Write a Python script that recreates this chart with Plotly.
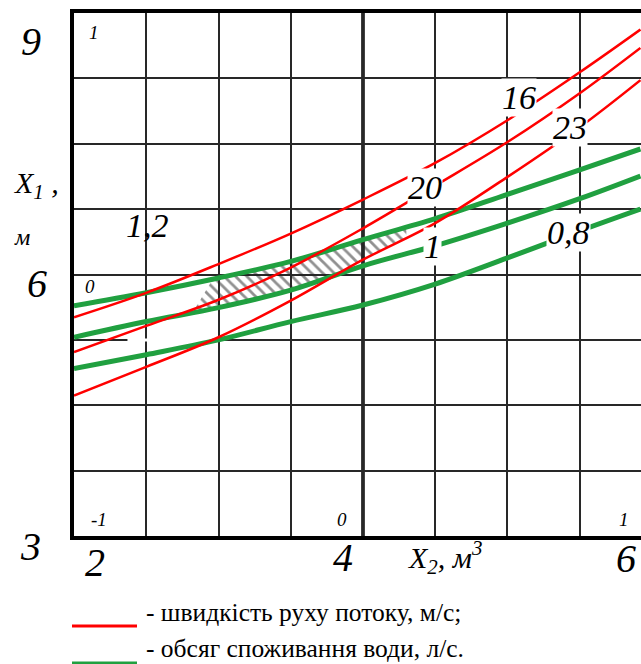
import numpy as np
import plotly.graph_objects as go

# ---------------- data ----------------
x2_points = [2.0, 2.5, 3.0, 3.5, 4.0, 4.5, 5.0, 5.5, 5.92]

# flow velocity isolines (m/s)
vel_16 = [5.51, 5.79, 6.12, 6.47, 6.86, 7.28, 7.77, 8.32, 8.81]
vel_20 = [5.11, 5.41, 5.71, 6.08, 6.53, 7.02, 7.52, 8.08, 8.60]
vel_23 = [4.61, 4.94, 5.28, 5.70, 6.17, 6.59, 7.12, 7.69, 8.23]

# water consumption isolines (l/s)
flow_12 = [5.64, 5.79, 5.96, 6.15, 6.40, 6.64, 6.92, 7.20, 7.44]
flow_10 = [5.28, 5.46, 5.62, 5.82, 6.10, 6.33, 6.59, 6.87, 7.13]
flow_08 = [4.92, 5.08, 5.25, 5.46, 5.65, 5.89, 6.19, 6.50, 6.75]

vel_labels = ["16", "20", "23"]
vel_label_x = [5.08, 4.43, 5.43]
vel_label_y = [8.03, 7.00, 7.69]

flow_labels = ["1,2", "1", "0,8"]
flow_label_x = [2.51, 4.48, 5.42]
flow_label_y = [6.56, 6.32, 6.48]

x_tick_vals = [2, 4, 6]
x_tick_text = ["2", "4", "6"]
y_tick_vals = [3, 6, 9]
y_tick_text = ["3", "6", "9"]

coded_x_vals = [2, 4, 6]
coded_x_text = ["-1", "0", "1"]
coded_y_vals = [9, 6]
coded_y_text = ["1", "0"]

# hatched compromise zone limits (X2)
hatch_x_start = 2.82
hatch_x_top_start = 2.96
hatch_x_end = 4.30

legend_texts = ["- швидкість руху потоку, м/с;", "- обсяг споживання води, л/с."]

# ---------------- styling ----------------
X_RANGE = [2.0, 5.924]
Y_RANGE = [3.0, 9.0]
RED = "#ff0000"
GREEN = "#20a040"
SERIF = "Liberation Serif"


def fx(v):
    return (v - X_RANGE[0]) / (X_RANGE[1] - X_RANGE[0])


def fy(v):
    return (v - Y_RANGE[0]) / (Y_RANGE[1] - Y_RANGE[0])


def ifont(size):
    return dict(family=SERIF, size=size, color="black", style="italic")


fig = go.Figure()

# hatched region
xp = np.array(x2_points)
xt = np.linspace(hatch_x_top_start, hatch_x_end, 30)
yt = np.interp(xt, xp, flow_12)
xb = np.linspace(hatch_x_end, hatch_x_start, 30)
yb = np.maximum(np.interp(xb, xp, flow_10), np.interp(xb, xp, vel_23))
hx = np.concatenate([xt, xb, xt[:1]])
hy = np.concatenate([yt, yb, yt[:1]])
fig.add_trace(go.Scatter(
    x=hx, y=hy, mode="lines", line=dict(width=0, color="rgba(0,0,0,0)"),
    fill="toself", fillcolor="rgba(0,0,0,0)",
    fillpattern=dict(shape="\\", fgcolor="#222222", bgcolor="rgba(0,0,0,0)",
                     size=8, solidity=0.35),
    hoverinfo="skip"))

for ys in (flow_12, flow_10, flow_08):
    fig.add_trace(go.Scatter(x=x2_points, y=ys, mode="lines",
                             line=dict(color=GREEN, width=5, shape="spline"),
                             hoverinfo="skip"))
for ys in (vel_16, vel_20, vel_23):
    fig.add_trace(go.Scatter(x=x2_points, y=ys, mode="lines",
                             line=dict(color=RED, width=2.5, shape="spline"),
                             hoverinfo="skip"))

ann = []
# curve labels
for t, x, y in zip(vel_labels + flow_labels, vel_label_x + flow_label_x,
                   vel_label_y + flow_label_y):
    ann.append(dict(x=x, y=y, xref="x", yref="y", text=t, showarrow=False,
                    xanchor="center", yanchor="middle", font=ifont(34),
                    bgcolor=None if t == "1,2" else "white", borderpad=0))

# axis numbers
x_shift = [21, -20, -26]
x_yshift = [-26, -21, -22]
for v, t, sx, sy in zip(x_tick_vals, x_tick_text, x_shift, x_yshift):
    ann.append(dict(x=fx(v), y=0, xref="paper", yref="paper", text=t,
                    showarrow=False, xshift=sx, yshift=sy,
                    xanchor="center", yanchor="middle", font=ifont(40)))
y_xshift = [-44, -37, -43]
y_yshift = [-10, -9, -28]
for v, t, sx, sy in zip(y_tick_vals, y_tick_text, y_xshift, y_yshift):
    ann.append(dict(x=0, y=fy(v), xref="paper", yref="paper", text=t,
                    showarrow=False, xshift=sx, yshift=sy,
                    xanchor="center", yanchor="middle", font=ifont(40)))

# coded levels
cx_shift = [25, -21, -28]
for v, t, sx in zip(coded_x_vals, coded_x_text, cx_shift):
    ann.append(dict(x=fx(v), y=0, xref="paper", yref="paper", text=t,
                    showarrow=False, xshift=sx, yshift=17,
                    xanchor="center", yanchor="middle", font=ifont(19)))
cy_shift = [-19, -12]
cy_xshift = [20, 16]
for v, t, sx, sy in zip(coded_y_vals, coded_y_text, cy_xshift, cy_shift):
    ann.append(dict(x=0, y=fy(v), xref="paper", yref="paper", text=t,
                    showarrow=False, xshift=sx, yshift=sy,
                    xanchor="center", yanchor="middle", font=ifont(19)))

# axis titles
ann.append(dict(x=0, y=fy(9), xref="paper", yref="paper", text="X<sub>1</sub> ,",
                showarrow=False, xshift=-38, yshift=-172,
                xanchor="center", yanchor="middle", font=ifont(30)))
ann.append(dict(x=0, y=fy(9), xref="paper", yref="paper", text="м",
                showarrow=False, xshift=-52, yshift=-224,
                xanchor="center", yanchor="middle", font=ifont(24)))
ann.append(dict(x=fx(4), y=0, xref="paper", yref="paper", text="X<sub>2</sub>, м<sup>3</sup>",
                showarrow=False, xshift=82, yshift=-21,
                xanchor="center", yanchor="middle", font=ifont(30)))

# legend (sample line drawn as a shape, text as annotation)
shapes = []
for i, (txt, col) in enumerate(zip(legend_texts, [RED, GREEN])):
    ann.append(dict(x=0, y=0, xref="paper", yref="paper",
                    xshift=70, yshift=-76 - i * 36,
                    xanchor="left", yanchor="middle", showarrow=False,
                    text=txt, font=dict(family=SERIF, size=25.5, color="black")))
    yline = -(90 + i * 37) / 523.0
    shapes.append(dict(type="line", xref="paper", yref="paper",
                       x0=-2 / 567.0, x1=63 / 567.0, y0=yline, y1=yline,
                       line=dict(color=col, width=3)))

shapes += [
    dict(type="line", xref="x", yref="paper", x0=4, x1=4, y0=0, y1=1,
         line=dict(color="black", width=3.5), layer="between"),
    dict(type="line", xref="x", yref="y", x0=2.37, x1=3.0, y0=5.25, y1=5.25,
         line=dict(color="white", width=3), layer="between"),
]

fig.update_layout(
    width=641, height=664,
    margin=dict(l=74, r=0, t=13, b=128),
    plot_bgcolor="white", paper_bgcolor="white",
    showlegend=False,
    annotations=ann, shapes=shapes,
    xaxis=dict(range=X_RANGE, tick0=2, dtick=0.5, showticklabels=False, ticks="",
               showgrid=True, gridcolor="#282828", gridwidth=2,
               showline=True, linecolor="black", linewidth=4, mirror=True,
               zeroline=False, fixedrange=True),
    yaxis=dict(range=Y_RANGE, tick0=3, dtick=0.75, showticklabels=False, ticks="",
               showgrid=True, gridcolor="#282828", gridwidth=2,
               showline=True, linecolor="black", linewidth=4, mirror=False,
               zeroline=False, fixedrange=True),
)

# remove the browser's default 8px page margin so the 641x664 figure fills the window
fig.write_html("out.html",
               config={"displayModeBar": False},
               post_script="document.body.style.margin='0';"
                           "document.body.style.overflow='hidden';")
